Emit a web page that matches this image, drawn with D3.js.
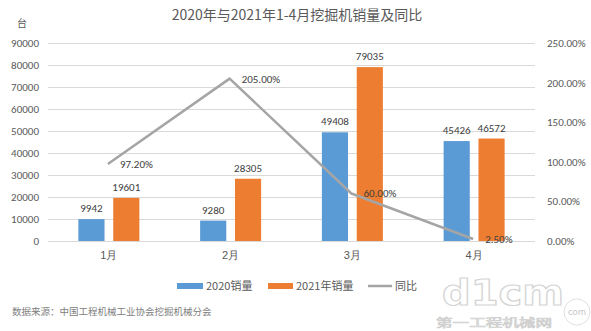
<!DOCTYPE html>
<html><head><meta charset="utf-8">
<script src="https://cdn.jsdelivr.net/npm/d3@7"></script>
<style>body{margin:0;background:#fff;}svg{display:block;font-family:"Noto Sans CJK SC","Microsoft YaHei",sans-serif;}</style>
</head><body><svg id="c" width="591" height="331"></svg>
<script>
const categories = ["1月","2月","3月","4月"];
const sales2020 = [9942, 9280, 49408, 45426];
const sales2021 = [19601, 28305, 79035, 46572];
const yoy = [97.20, 205.00, 60.00, 2.50];
const leftTicks = [0,10000,20000,30000,40000,50000,60000,70000,80000,90000];
const rightTicks = [0,50,100,150,200,250];
const seriesNames = ["2020销量","2021年销量","同比"];
const colors = ["#5b9bd5","#ed7d31","#a5a5a5"];

const svg = d3.select("#c");
const L = 48, R = 535, T = 43, B = 241;
const x = d3.scaleBand().domain(categories).range([L, R]);
const y = d3.scaleLinear().domain([0, 90000]).range([B, T]);
const y2 = d3.scaleLinear().domain([0, 250]).range([B, T]);
const inner = d3.scaleBand().domain([0,1]).range([0, 61]).paddingInner(0.25);
const groupOff = (x.bandwidth() - 61) / 2;

// title
svg.append("text").attr("x", 297).attr("y", 20).attr("text-anchor","middle")
  .attr("font-size", 14).attr("fill", "#595959").text("2020年与2021年1-4月挖掘机销量及同比");
svg.append("text").attr("x", 22).attr("y", 27).attr("text-anchor","middle")
  .attr("font-size", 10).attr("fill", "#595959").text("台");

// grid
svg.append("g").selectAll("line").data(leftTicks).join("line")
  .attr("x1", L).attr("x2", R).attr("y1", d=>y(d)+0.5).attr("y2", d=>y(d)+0.5)
  .attr("stroke", "#d9d9d9").attr("stroke-width", 1);

// left axis
const la = svg.append("g").attr("transform", `translate(${L},0)`)
  .call(d3.axisLeft(y).tickValues(leftTicks).tickSize(0).tickPadding(9).tickFormat(d3.format("d")));
la.select(".domain").remove();
la.selectAll("text").attr("font-size", 11).attr("fill", "#595959").attr("font-family","Calibri, Carlito, 'Liberation Sans', sans-serif");

// right axis
const ra = svg.append("g").attr("transform", `translate(${R},0)`)
  .call(d3.axisRight(y2).tickValues(rightTicks).tickSize(0).tickPadding(12).tickFormat(d => d.toFixed(2) + "%"));
ra.select(".domain").remove();
ra.selectAll("text").attr("font-size", 11).attr("fill", "#595959").attr("font-family","Calibri, Carlito, 'Liberation Sans', sans-serif");

// bottom axis line + category labels
svg.append("line").attr("x1", L).attr("x2", R).attr("y1", B+0.5).attr("y2", B+0.5).attr("stroke", "#d9d9d9");
const ba = svg.append("g").attr("transform", `translate(0,${B})`)
  .call(d3.axisBottom(x).tickSize(0).tickPadding(10));
ba.select(".domain").remove();
ba.selectAll("text").attr("font-size", 11).attr("fill", "#595959");

// bars
const series = [sales2020, sales2021];
series.forEach((vals, si) => {
  const g = svg.append("g");
  g.selectAll("rect").data(vals).join("rect")
    .attr("x", (d,i) => x(categories[i]) + groupOff + inner(si))
    .attr("width", inner.bandwidth())
    .attr("y", d => y(d)).attr("height", d => B - y(d))
    .attr("fill", colors[si]);
  g.selectAll("text").data(vals).join("text")
    .attr("x", (d,i) => x(categories[i]) + groupOff + inner(si) + inner.bandwidth()/2)
    .attr("y", d => y(d) - 7)
    .attr("text-anchor", "middle").attr("font-size", 11).attr("fill", "#404040")
    .attr("font-family","Calibri, Carlito, 'Liberation Sans', sans-serif")
    .text(d => d);
});

// line
const cx = c => x(c) + x.bandwidth()/2 - 1;
svg.append("path").datum(yoy)
  .attr("d", d3.line().x((d,i) => cx(categories[i])).y(d => y2(d)))
  .attr("fill", "none").attr("stroke", colors[2]).attr("stroke-width", 2.5).attr("stroke-linejoin","round");
svg.append("g").selectAll("text").data(yoy).join("text")
  .attr("x", (d,i) => cx(categories[i]) + 12)
  .attr("y", d => y2(d) + 4)
  .attr("font-size", 11).attr("fill", "#404040")
  .attr("font-family","Calibri, Carlito, 'Liberation Sans', sans-serif")
  .text(d => d.toFixed(2) + "%");

// legend
const lg = svg.append("g");
const items = [{x:177, w:26, t:"rect"}, {x:268, w:25, t:"rect"}, {x:368, w:24, t:"line"}];
items.forEach((it, i) => {
  if (it.t === "rect") lg.append("rect").attr("x", it.x).attr("y", 283).attr("width", it.w).attr("height", 6).attr("fill", colors[i]);
  else lg.append("line").attr("x1", it.x).attr("x2", it.x+it.w).attr("y1", 286).attr("y2", 286).attr("stroke", colors[i]).attr("stroke-width", 2.5);
  lg.append("text").attr("x", it.x + it.w + 3).attr("y", 290).attr("font-size", 11).attr("fill", "#595959").text(seriesNames[i]);
});

// source
svg.append("text").attr("x", 12).attr("y", 315).attr("font-size", 9.5).attr("fill", "#808080")
  .text("数据来源：中国工程机械工业协会挖掘机械分会");

// watermark
const wm = svg.append("g");
wm.append("text").attr("x", 442).attr("y", 305).attr("font-size", 36).attr("font-weight", "bold")
  .attr("font-family","'DejaVu Sans', sans-serif")
  .attr("textLength", 122).attr("lengthAdjust", "spacingAndGlyphs")
  .attr("fill", "#ffffff").attr("stroke", "#d4d4d4").attr("stroke-width", 1.2).text("d1cm");
wm.append("circle").attr("cx", 577).attr("cy", 312).attr("r", 13).attr("fill", "#ffffff").attr("stroke", "#e0e0e0");
wm.append("text").attr("x", 577).attr("y", 315).attr("text-anchor","middle").attr("font-size", 9)
  .attr("fill", "#c8c8c8").text("com");
wm.append("text").attr("x", 436).attr("y", 327).attr("font-size", 11)
  .attr("textLength", 116).attr("lengthAdjust", "spacingAndGlyphs")
  .attr("fill", "#ffffff").attr("stroke", "#cfcfcf").attr("stroke-width", 0.7).text("第一工程机械网");
</script></body></html>
